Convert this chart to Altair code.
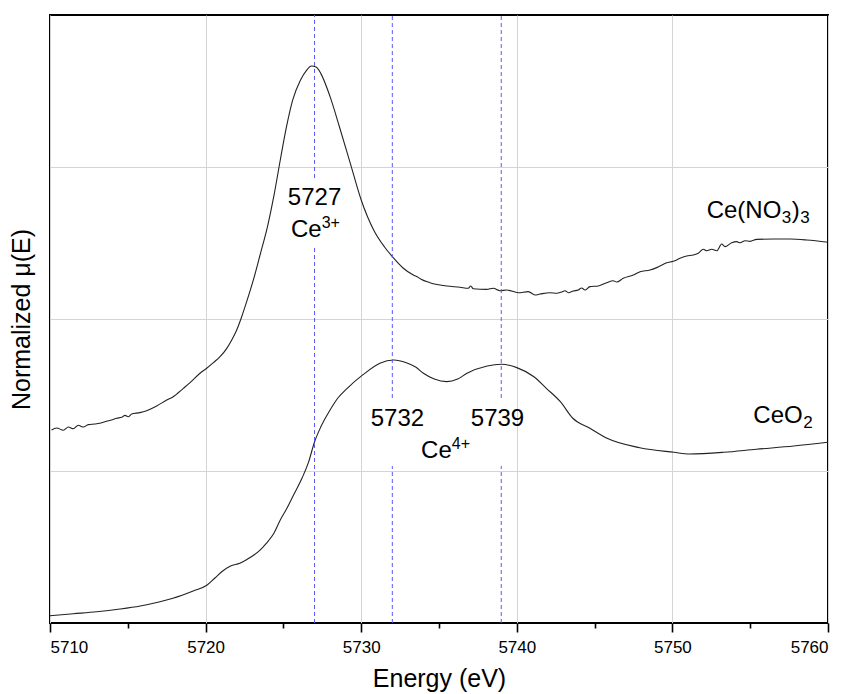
import altair as alt
import pandas as pd

# ---------------- data ----------------
# Ce(NO3)3 spectrum (energy eV, normalized mu(E) with vertical offset)
ce3_E = [5710.10, 5710.43, 5710.86, 5711.18, 5711.50, 5711.82, 5712.14, 5712.46, 5712.89, 5713.21,
         5713.64, 5713.96, 5714.29, 5714.61, 5714.82, 5715.03, 5715.25, 5715.78, 5716.21, 5716.86,
         5717.50, 5717.92, 5718.57, 5719.00, 5719.64, 5720.07, 5720.50, 5720.93, 5721.36, 5721.68,
         5722.00, 5722.32, 5722.64, 5723.07, 5723.50, 5724.00, 5724.40, 5724.80, 5725.20, 5725.60,
         5726.10, 5726.50, 5726.80, 5727.10, 5727.40, 5728.00, 5728.60, 5729.30, 5730.00, 5730.80,
         5731.50, 5732.10, 5732.71, 5733.35, 5733.67, 5733.85, 5734.42, 5735.50, 5736.35, 5736.88,
         5737.04, 5737.20, 5738.06, 5738.49, 5738.92, 5739.35, 5740.10, 5740.74, 5741.17, 5741.49,
         5742.13, 5742.56, 5742.89, 5743.10, 5743.31, 5743.63, 5743.95, 5744.17, 5744.38, 5744.70,
         5745.24, 5745.78, 5746.20, 5746.42, 5746.84, 5747.49, 5747.92, 5748.56, 5748.99, 5749.63,
         5750.06, 5750.49, 5750.92, 5751.34, 5751.66, 5751.99, 5752.20, 5752.53, 5752.85, 5753.17,
         5753.38, 5753.81, 5754.13, 5754.34, 5754.67, 5754.99, 5755.42, 5756.49, 5757.56, 5758.63,
         5760.00]
ce3_mu = [1.270, 1.283, 1.268, 1.289, 1.278, 1.301, 1.289, 1.305, 1.309, 1.314,
          1.327, 1.336, 1.347, 1.353, 1.366, 1.357, 1.375, 1.384, 1.397, 1.428,
          1.467, 1.489, 1.544, 1.581, 1.643, 1.676, 1.713, 1.752, 1.807, 1.862,
          1.928, 2.015, 2.114, 2.257, 2.421, 2.618, 2.816, 3.046, 3.265, 3.441,
          3.572, 3.638, 3.664, 3.658, 3.616, 3.463, 3.265, 3.024, 2.783, 2.586,
          2.474, 2.399, 2.334, 2.289, 2.274, 2.261, 2.239, 2.217, 2.209, 2.202,
          2.217, 2.199, 2.195, 2.202, 2.186, 2.191, 2.173, 2.180, 2.158, 2.164,
          2.173, 2.169, 2.178, 2.186, 2.173, 2.184, 2.191, 2.204, 2.191, 2.213,
          2.217, 2.239, 2.252, 2.243, 2.268, 2.289, 2.311, 2.322, 2.338, 2.370,
          2.380, 2.399, 2.414, 2.421, 2.432, 2.459, 2.449, 2.459, 2.449, 2.493,
          2.476, 2.502, 2.509, 2.502, 2.515, 2.511, 2.524, 2.526, 2.526, 2.520,
          2.505]

# CeO2 spectrum
ceo2_E = [5710.0, 5711.5, 5713.0, 5714.5, 5715.8, 5717.0, 5717.9, 5719.2, 5720.1, 5720.6,
          5721.1, 5721.6, 5722.2, 5722.7, 5723.1, 5723.5, 5723.9, 5724.4, 5724.8, 5725.2,
          5725.6, 5726.2, 5726.6, 5727.0, 5727.4, 5728.0, 5728.5, 5729.1, 5730.1, 5731.2,
          5732.1, 5732.9, 5733.5, 5734.0, 5734.7, 5735.5, 5736.2, 5736.8, 5738.1, 5739.0,
          5740.0, 5741.1, 5741.9, 5742.8, 5743.6, 5744.7, 5745.8, 5747.9, 5750.1, 5751.1,
          5753.3, 5755.4, 5757.8, 5760.0]
ceo2_mu = [0.048, 0.061, 0.074, 0.092, 0.112, 0.138, 0.163, 0.211, 0.250, 0.296,
           0.342, 0.375, 0.393, 0.421, 0.447, 0.480, 0.524, 0.592, 0.678, 0.750,
           0.831, 0.954, 1.053, 1.191, 1.289, 1.401, 1.480, 1.544, 1.632, 1.709,
           1.730, 1.712, 1.684, 1.643, 1.605, 1.588, 1.605, 1.643, 1.691, 1.702,
           1.680, 1.620, 1.544, 1.456, 1.347, 1.281, 1.215, 1.153, 1.123, 1.112,
           1.123, 1.143, 1.164, 1.189]

# marker lines (energy) and the spans where they are drawn (gaps behind labels)
seg_E = [5727, 5727, 5732, 5732, 5739, 5739]
seg_lo = [2.928, 0.0, 1.480, 0.0, 1.480, 0.0]
seg_hi = [4.0, 2.487, 4.0, 1.033, 4.0, 1.033]

# energy labels
num_text = ["5727", "5732", "5739"]
num_E = [5727.0, 5732.33, 5738.76]
num_mu = [2.750, 1.296, 1.296]

# oxidation-state labels (join point of "Ce" and superscript)
ion_base = ["Ce", "Ce"]
ion_sup = ["3+", "4+"]
ion_E = [5727.46, 5735.82]
ion_mu = [2.541, 1.083]

# sample labels (left anchor)
samp_E = [5752.20, 5755.20]
samp_mu = [2.662, 1.318]

x_ticks = [5710, 5715, 5720, 5725, 5730, 5735, 5740, 5745, 5750, 5755, 5760]
y_grid = [1, 2, 3]

# ---------------- chart ----------------
FONT = "Liberation Sans"
xsc = alt.Scale(domain=[5710, 5760], nice=False, zero=False)
ysc = alt.Scale(domain=[0, 4], nice=False, zero=False)

xax = alt.Axis(
    values=x_ticks, format="d",
    labelExpr="datum.value % 10 === 0 ? datum.label : ''",
    tickSize={"condition": {"test": "datum.value % 10 === 0", "value": 9}, "value": 5},
    gridOpacity={"condition": {"test": "datum.value % 10 === 0", "value": 1}, "value": 0},
    grid=True, gridColor="#d4d4d4", gridWidth=1,
    tickColor="black", tickWidth=1.6,
    domain=False,
    labelFont=FONT, labelFontSize=17, labelColor="black", labelPadding=7,
    title="Energy (eV)", titleFont=FONT, titleFontSize=25, titleFontWeight="normal",
    titleColor="black", titlePadding=11,
)
yax = alt.Axis(
    values=y_grid, grid=True, gridColor="#d4d4d4", gridWidth=1,
    ticks=False, labels=False, domain=False,
    title="Normalized μ(E)", titleFont=FONT, titleFontSize=25, titleFontWeight="normal",
    titleColor="black", titlePadding=16,
)

X = alt.X("E:Q", scale=xsc, axis=xax)
Y = alt.Y("mu:Q", scale=ysc, axis=yax)

curves = pd.concat([
    pd.DataFrame({"E": ce3_E, "mu": ce3_mu, "s": "Ce(NO3)3"}),
    pd.DataFrame({"E": ceo2_E, "mu": ceo2_mu, "s": "CeO2"}),
])
lines = alt.Chart(curves).mark_line(color="#222222", strokeWidth=1.1, interpolate="monotone").encode(
    x=X, y=Y, detail="s:N", order="E:Q"
)

segs = pd.DataFrame({"E": seg_E, "mu": seg_lo, "mu2": seg_hi})
rules = alt.Chart(segs).mark_rule(color="#5a5af5", strokeWidth=1, strokeDash=[4, 3]).encode(
    x=X, y=Y, y2="mu2:Q"
)

nums = alt.Chart(pd.DataFrame({"E": num_E, "mu": num_mu, "t": num_text})).mark_text(
    font=FONT, fontSize=24, color="black", align="center", baseline="alphabetic"
).encode(x=X, y=Y, text="t:N")

ions_df = pd.DataFrame({"E": ion_E, "mu": ion_mu, "b": ion_base, "p": ion_sup})
ion_b = alt.Chart(ions_df).mark_text(
    font=FONT, fontSize=24, color="black", align="right", baseline="alphabetic"
).encode(x=X, y=Y, text="b:N")
ion_p = alt.Chart(ions_df).mark_text(
    font=FONT, fontSize=16, color="black", align="left", baseline="alphabetic", dy=-9
).encode(x=X, y=Y, text="p:N")

# sample label pieces (main text + subscripts)
def piece(i, txt, size, dx, dy):
    df = pd.DataFrame({"E": [samp_E[i]], "mu": [samp_mu[i]], "t": [txt]})
    return alt.Chart(df).mark_text(
        font=FONT, fontSize=size, color="black", align="left", baseline="alphabetic", dx=dx, dy=dy
    ).encode(x=X, y=Y, text="t:N")

w_main = 3.111 * 24
w_sub = 0.556 * 17
w_par = 0.333 * 24
nitrate = [
    piece(0, "Ce(NO", 24, 0, 0),
    piece(0, "3", 17, w_main + 0.5, 5),
    piece(0, ")", 24, w_main + w_sub + 1, 0),
    piece(0, "3", 17, w_main + w_sub + w_par + 1.5, 5),
]
ceo2 = [
    piece(1, "CeO", 24, 0, 0),
    piece(1, "2", 17, 2.056 * 24 + 0.5, 5),
]

chart = alt.layer(lines, rules, nums, ion_b, ion_p, *nitrate, *ceo2).properties(
    width=778, height=608,
    background="white",
    autosize=alt.AutoSizeParams(type="none"),
    padding={"left": 50, "top": 15, "right": 22, "bottom": 71},
).configure_view(stroke="black", strokeWidth=2)

chart.save("out.html", embed_options={"renderer": "svg", "actions": False})
